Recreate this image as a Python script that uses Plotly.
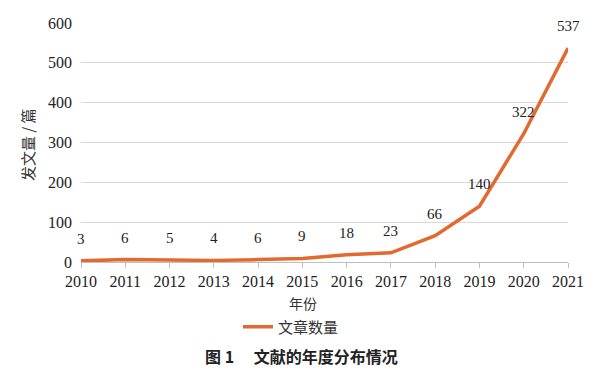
import plotly.graph_objects as go

years = [2010, 2011, 2012, 2013, 2014, 2015, 2016, 2017, 2018, 2019, 2020, 2021]
counts = [3, 6, 5, 4, 6, 9, 18, 23, 66, 140, 322, 537]
y_ticks = [0, 100, 200, 300, 400, 500, 600]

serif = "Liberation Serif, Times New Roman, serif"
cjk = "Noto Sans CJK SC"
color = "#E2692F"

# page body has an 8px default margin; size the figure so it fits the 600x385 window
OFF = 8
W, H = 600 - OFF, 385 - OFF
PW, PH = 487, 239  # plot area size in pixels

fig = go.Figure()
fig.add_trace(go.Scatter(
    x=years, y=counts, mode="lines", name="文章数量",
    line=dict(color=color, width=3.5),
))

for x, y in zip(years, counts):
    fig.add_annotation(x=x, y=y, text=str(y), showarrow=False,
                       yshift=22, font=dict(family=serif, size=15, color="#222"))

fig.add_annotation(xref="paper", yref="paper", x=(303 - 81) / PW, y=-41 / PH,
                   xanchor="center", yanchor="middle",
                   text="年份", showarrow=False, font=dict(family=cjk, size=14, color="#333"))
fig.add_annotation(xref="paper", yref="paper", x=(27 - 81) / PW, y=(262 - 145) / PH,
                   xanchor="center", yanchor="middle",
                   text="发文量 / 篇", textangle=-90, showarrow=False,
                   font=dict(family=cjk, size=15, color="#333"))
fig.add_annotation(xref="paper", yref="paper", x=(301 - 81) / PW, y=-94 / PH,
                   xanchor="center", yanchor="middle",
                   text="<b>图 1</b>　 <b>文献的年度分布情况</b>", showarrow=False,
                   font=dict(family=cjk, size=16, color="#222"))

fig.update_layout(
    width=W, height=H,
    margin=dict(l=81 - OFF, r=32, t=23 - OFF, b=123, autoexpand=False),
    plot_bgcolor="white", paper_bgcolor="white",
    showlegend=True,
    legend=dict(orientation="h", x=(238 - 81) / PW, y=-65 / PH, xanchor="left", yanchor="middle",
                font=dict(family=cjk, size=15, color="#333"), bgcolor="rgba(0,0,0,0)"),
    xaxis=dict(range=[2010, 2021], tickvals=years, ticktext=[str(y) for y in years],
               showgrid=False, zeroline=False, showline=True, linecolor="#bfbfbf", linewidth=1,
               ticks="outside", ticklen=5, tickcolor="#bfbfbf",
               tickfont=dict(family=serif, size=16, color="#222")),
    yaxis=dict(range=[0, 600], tickvals=y_ticks, showgrid=True, gridcolor="#d9d9d9", gridwidth=1,
               zeroline=False, showline=False, ticks="", ticklabelstandoff=8,
               tickfont=dict(family=serif, size=16, color="#222")),
)

fig.write_html("out.html")
